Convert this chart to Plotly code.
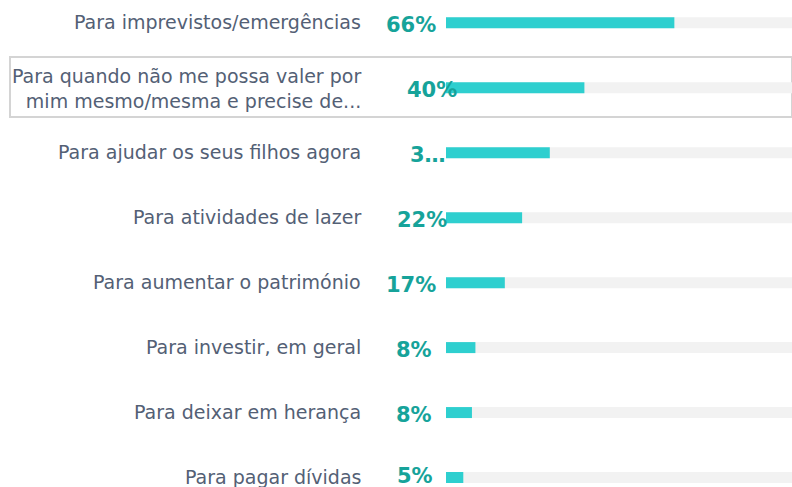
import plotly.graph_objects as go

categories = [
    "Para imprevistos/emergências",
    "Para quando não me possa valer por<br>mim mesmo/mesma e precise de...",
    "Para ajudar os seus filhos agora",
    "Para atividades de lazer",
    "Para aumentar o património",
    "Para investir, em geral",
    "Para deixar em herança",
    "Para pagar dívidas",
]
values = [66, 40, 30, 22, 17, 8.5, 7.5, 5]
value_labels = ["66%", "40%", "3…", "22%", "17%", "8%", "8%", "5%"]
track_max = [100] * len(values)

# style: right edge (px) of each value label as drawn in the reference
value_right_px = [438, 459, 448, 449, 438, 434, 434, 435]

W, H = 792, 487
bar_left = 446
rows = list(range(len(categories)))
row_h = 64.96
y_top = -22.8 / row_h
y_bot = y_top + H / row_h

fig = go.Figure()
fig.add_trace(go.Bar(
    y=rows, x=track_max, orientation="h", width=11 / row_h,
    marker=dict(color="#f2f2f2", line=dict(width=0)), hoverinfo="skip",
))
fig.add_trace(go.Bar(
    y=rows, x=values, orientation="h", width=11 / row_h,
    marker=dict(color="#2ecfcf", line=dict(width=0)),
))

annotations = []
for i, (cat, vl, rx) in enumerate(zip(categories, value_labels, value_right_px)):
    annotations.append(dict(
        x=363 / W, xref="paper", y=i, yref="y", text=cat, showarrow=False,
        xanchor="right", yanchor="middle", align="right",
        font=dict(family="DejaVu Sans", size=19, color="#536075"),
        yshift=(-1 if i == 1 else 1),
    ))
    annotations.append(dict(
        x=rx / W, xref="paper", y=i, yref="y", text=vl, showarrow=False,
        xanchor="right", yanchor="middle",
        font=dict(family="DejaVu Sans", size=21, color="#16a39a", weight=600),
        yshift=(-2 if i < len(categories) - 1 else 2),
    ))

shapes = [dict(
    type="rect", xref="paper", yref="y",
    x0=10 / W, x1=1.0, y0=y_top + 57 / row_h, y1=y_top + 117 / row_h,
    line=dict(color="#d4d4d4", width=2), fillcolor="rgba(0,0,0,0)", layer="below",
)]

fig.update_layout(
    width=W, height=H, margin=dict(l=0, r=0, t=0, b=0),
    paper_bgcolor="white", plot_bgcolor="white",
    barmode="overlay", showlegend=False,
    xaxis=dict(domain=[bar_left / W, 1], range=[0, 100], visible=False, fixedrange=True),
    yaxis=dict(range=[y_bot, y_top], visible=False, fixedrange=True),
    annotations=annotations, shapes=shapes,
)

fig.write_html(
    "out.html",
    config={"displayModeBar": False},
    post_script="document.body.style.margin='0';document.body.style.overflow='hidden';",
)
